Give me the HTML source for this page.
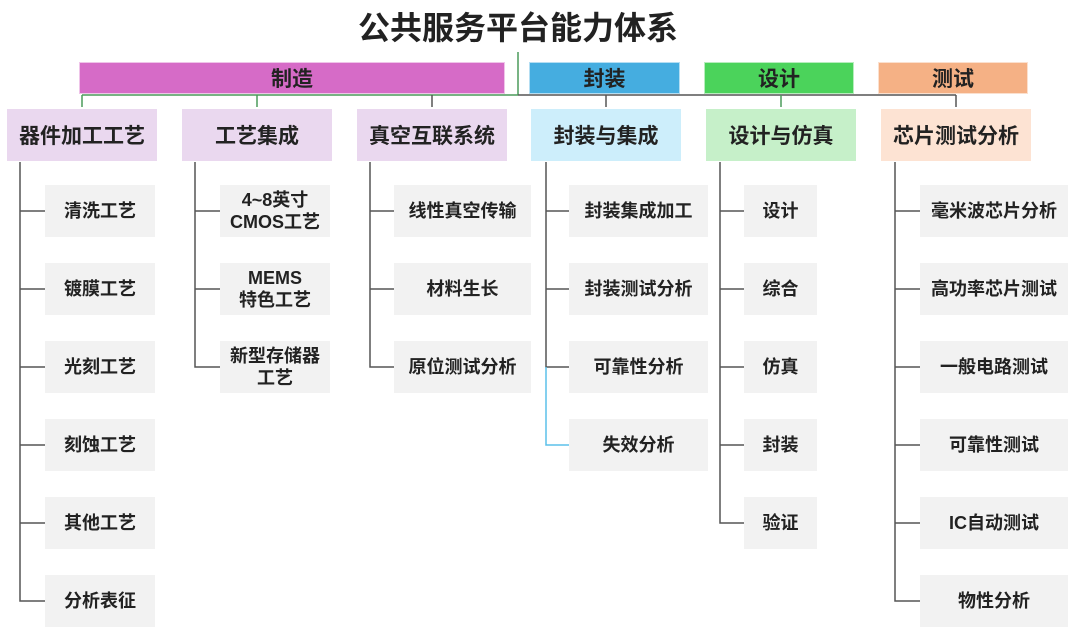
<!DOCTYPE html>
<html><head><meta charset="utf-8"><style>
body{margin:0;width:1080px;height:638px;background:#fff;position:relative;overflow:hidden;font-family:"Liberation Sans","Noto Sans CJK SC",sans-serif;font-weight:bold;color:#222}
.b{position:absolute;display:flex;align-items:center;justify-content:center;text-align:center;box-sizing:border-box}
.t{font-size:32px;left:0;width:1036px;top:4px;height:44px}
.c{height:32px;top:62px;font-size:21px;border:1px solid rgba(255,255,255,.6)}
.l2{height:52px;top:109px;width:150px;font-size:21px}
.lf{height:52px;background:#f2f2f2;font-size:18px;line-height:22px}
svg{position:absolute;left:0;top:0}
</style></head><body>
<svg width="1080" height="638">
<g stroke="#555" stroke-width="1.5" fill="none">
<line x1="518" y1="52" x2="518" y2="95" stroke="#4a9a5a"/>
<line x1="82" y1="95" x2="518" y2="95" stroke="#4a9a5a"/>
<line x1="518" y1="95" x2="956" y2="95"/>
<line x1="82" y1="95" x2="82" y2="107" stroke="#4a9a5a"/>
<line x1="257" y1="95" x2="257" y2="107" stroke="#4a9a5a"/>
<line x1="432" y1="95" x2="432" y2="107"/>
<line x1="606" y1="95" x2="606" y2="107"/>
<line x1="781" y1="95" x2="781" y2="107" stroke="#4a9a5a"/>
<line x1="956" y1="95" x2="956" y2="107"/>
<path d="M20 162V601H45M20 211H45M20 289H45M20 367H45M20 445H45M20 523H45"/>
<path d="M195 162V367H220M195 211H220M195 289H220"/>
<path d="M370 162V367H394M370 211H394M370 289H394"/>
<path d="M546 162V367H569M546 211H569M546 289H569"/>
<path d="M546 367V445H569" stroke="#5bc0ea"/>
<path d="M720 162V523H744M720 211H744M720 289H744M720 367H744M720 445H744"/>
<path d="M895 162V601H920M895 211H920M895 289H920M895 367H920M895 445H920M895 523H920"/>
</g></svg>
<div class="b t">公共服务平台能力体系</div>
<div class="b c" style="left:79px;width:426px;background:#d66bc7">制造</div>
<div class="b c" style="left:529px;width:151px;background:#45ade0">封装</div>
<div class="b c" style="left:704px;width:150px;background:#4bd35b">设计</div>
<div class="b c" style="left:878px;width:150px;background:#f5b185">测试</div>
<div class="b l2" style="left:7px;background:#ead8ef">器件加工工艺</div>
<div class="b l2" style="left:182px;background:#ead8ef">工艺集成</div>
<div class="b l2" style="left:357px;background:#ead8ef">真空互联系统</div>
<div class="b l2" style="left:531px;background:#cdeefb">封装与集成</div>
<div class="b l2" style="left:706px;background:#c6f0c9">设计与仿真</div>
<div class="b l2" style="left:881px;background:#fde3d3">芯片测试分析</div>

<div class="b lf" style="left:45px;width:110px;top:185px">清洗工艺</div>
<div class="b lf" style="left:45px;width:110px;top:263px">镀膜工艺</div>
<div class="b lf" style="left:45px;width:110px;top:341px">光刻工艺</div>
<div class="b lf" style="left:45px;width:110px;top:419px">刻蚀工艺</div>
<div class="b lf" style="left:45px;width:110px;top:497px">其他工艺</div>
<div class="b lf" style="left:45px;width:110px;top:575px">分析表征</div>

<div class="b lf" style="left:220px;width:110px;top:185px">4~8英寸<br>CMOS工艺</div>
<div class="b lf" style="left:220px;width:110px;top:263px">MEMS<br>特色工艺</div>
<div class="b lf" style="left:220px;width:110px;top:341px">新型存储器<br>工艺</div>

<div class="b lf" style="left:394px;width:137px;top:185px">线性真空传输</div>
<div class="b lf" style="left:394px;width:137px;top:263px">材料生长</div>
<div class="b lf" style="left:394px;width:137px;top:341px">原位测试分析</div>

<div class="b lf" style="left:569px;width:139px;top:185px">封装集成加工</div>
<div class="b lf" style="left:569px;width:139px;top:263px">封装测试分析</div>
<div class="b lf" style="left:569px;width:139px;top:341px">可靠性分析</div>
<div class="b lf" style="left:569px;width:139px;top:419px">失效分析</div>

<div class="b lf" style="left:744px;width:73px;top:185px">设计</div>
<div class="b lf" style="left:744px;width:73px;top:263px">综合</div>
<div class="b lf" style="left:744px;width:73px;top:341px">仿真</div>
<div class="b lf" style="left:744px;width:73px;top:419px">封装</div>
<div class="b lf" style="left:744px;width:73px;top:497px">验证</div>

<div class="b lf" style="left:920px;width:148px;top:185px">毫米波芯片分析</div>
<div class="b lf" style="left:920px;width:148px;top:263px">高功率芯片测试</div>
<div class="b lf" style="left:920px;width:148px;top:341px">一般电路测试</div>
<div class="b lf" style="left:920px;width:148px;top:419px">可靠性测试</div>
<div class="b lf" style="left:920px;width:148px;top:497px">IC自动测试</div>
<div class="b lf" style="left:920px;width:148px;top:575px">物性分析</div>
</body></html>
